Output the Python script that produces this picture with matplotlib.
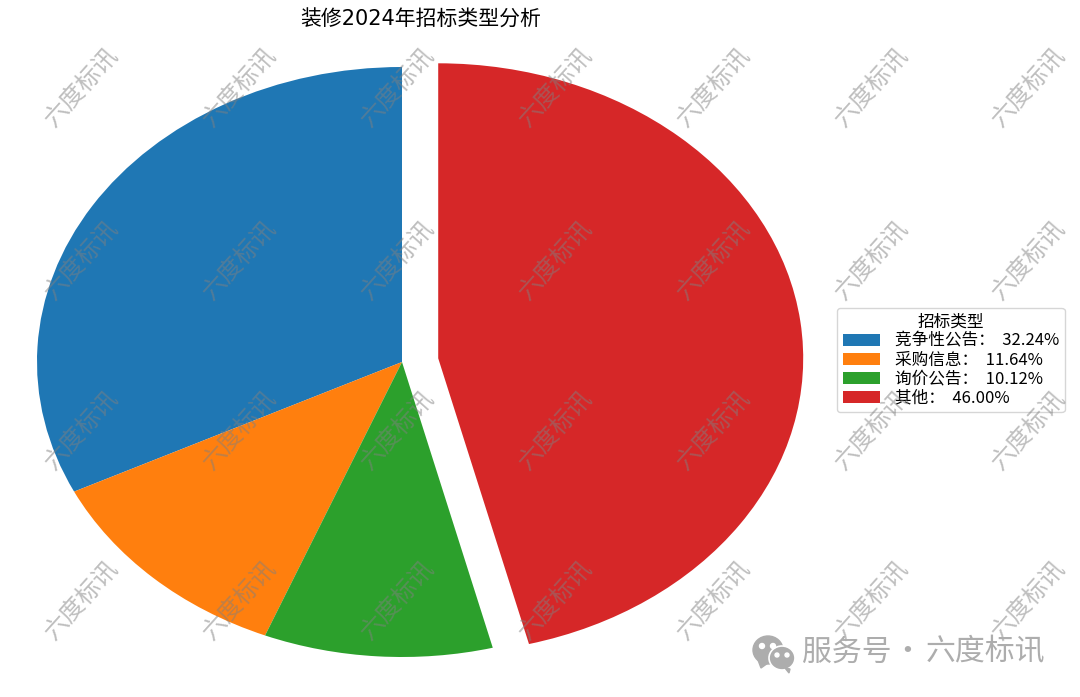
import matplotlib
matplotlib.use("Agg")
import matplotlib.pyplot as plt
from matplotlib.patches import Ellipse, Polygon
from matplotlib.transforms import IdentityTransform

plt.rcParams["font.family"] = ["Noto Sans CJK SC", "DejaVu Sans"]

# data
categories = ["竞争性公告", "采购信息", "询价公告", "其他"]
shares = [32.24, 11.64, 10.12, 46.00]
explode = [0, 0, 0, 0.1]
legend_title = "招标类型"
chart_title = "装修2024年招标类型分析"
watermark = "六度标讯"
footer_left = "服务号"
footer_dot = "·"
footer_right = "六度标讯"

W, H = 1080, 697
CX, CY, RX, RY = 402, 362, 365, 295  # pie centre and radii in pixels

fig = plt.figure(figsize=(W / 100, H / 100), dpi=100)
ax = fig.add_axes([0, 0, 1, 1])

wedges, _ = ax.pie(shares, explode=explode, startangle=90, radius=1)
ax.set_aspect("auto")
ax.set_xlim(-CX / RX, (W - CX) / RX)
ax.set_ylim(-(H - CY) / RY, CY / RY)

fig.text(421 / W, 1 - 20 / H, chart_title, ha="center", va="center", fontsize=15,
         family=["DejaVu Sans", "Noto Sans CJK SC"])

labels = [f"{c}：  {v:.2f}%" for c, v in zip(categories, shares)]
leg = ax.legend(
    wedges, labels, title=legend_title, fontsize=12, title_fontsize=12,
    loc="center left", bbox_to_anchor=(837 / W, 1 - 360 / H), borderaxespad=0,
    bbox_transform=fig.transFigure, labelspacing=0.12, handlelength=2.25,
    handletextpad=0.9, borderpad=0.33,
)

# repeated watermark on top of everything
for y in [87, 260, 430, 600]:
    for x in [81, 239, 397, 555, 713, 871, 1028]:
        fig.text(x / W, 1 - y / H, watermark, rotation=48, ha="center", va="center",
                 rotation_mode="anchor", fontsize=17.5, color="#808080", alpha=0.5,
                 fontweight="light", zorder=5)

# footer with the wechat mark, drawn in pixels
def px(x, y):
    return (x, H - y)


gray = "#adadad"
tr = IdentityTransform()
fig.add_artist(Ellipse(px(768, 650), 30, 28, color=gray, transform=tr, zorder=6))
fig.add_artist(Polygon([px(758, 660), px(761, 668), px(768, 663)], color=gray, transform=tr, zorder=6))
fig.add_artist(Ellipse(px(782, 658), 26, 24, facecolor=gray, edgecolor="white", lw=1.2, transform=tr, zorder=7))
fig.add_artist(Polygon([px(785, 668), px(790, 669), px(789, 673)], color=gray, transform=tr, zorder=7))
for ex, ey, r in [(762, 646, 5), (773, 646, 5), (777, 655, 4), (787, 655, 4)]:
    fig.add_artist(Ellipse(px(ex, ey), r, r, color="white", transform=tr, zorder=8))

fig.text(802 / W, 1 - 652 / H, footer_left, ha="left", va="center", fontsize=21.5,
         color=gray, zorder=6)
fig.text(907 / W, 1 - 652 / H, footer_dot, ha="center", va="center", fontsize=21.5,
         color=gray, zorder=6)
fig.text(1045 / W, 1 - 652 / H, footer_right, ha="right", va="center", fontsize=21.5,
         color=gray, zorder=6)

fig.savefig("out.png", dpi=100)
